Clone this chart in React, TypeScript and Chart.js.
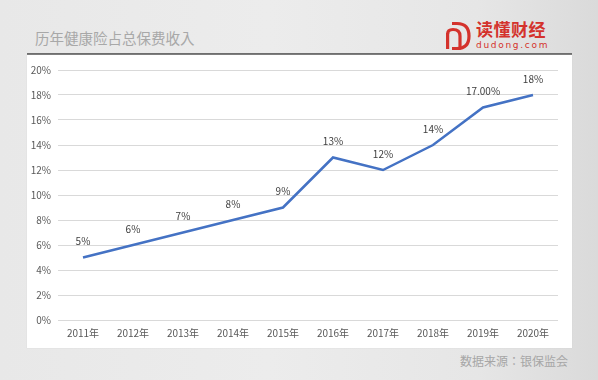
import React, { useEffect, useRef } from 'react';
import { Chart, registerables } from 'chart.js';

Chart.register(...registerables);

const categories = ['2011年', '2012年', '2013年', '2014年', '2015年', '2016年', '2017年', '2018年', '2019年', '2020年'];
const values = [5, 6, 7, 8, 9, 13, 12, 14, 17, 18];
const valueLabels = ['5%', '6%', '7%', '8%', '9%', '13%', '12%', '14%', '17.00%', '18%'];
const yMin = 0;
const yMax = 20;
const yStep = 2;

const FONT = '"Noto Sans CJK JP", "Noto Sans CJK SC", sans-serif';

const pointLabelPlugin = {
  id: 'pointLabels',
  afterDatasetsDraw(chart: any) {
    const ctx = chart.ctx;
    const meta = chart.getDatasetMeta(0);
    ctx.save();
    ctx.font = `10px ${FONT}`;
    ctx.fillStyle = '#404040';
    ctx.textAlign = 'center';
    ctx.textBaseline = 'middle';
    meta.data.forEach((pt: any, i: number) => {
      ctx.fillText(valueLabels[i], pt.x, pt.y - 16);
    });
    ctx.restore();
  },
};

function LineChart() {
  const ref = useRef<HTMLCanvasElement | null>(null);
  useEffect(() => {
    if (!ref.current) return;
    const chart = new Chart(ref.current, {
      type: 'line',
      data: {
        labels: categories,
        datasets: [
          {
            data: values,
            borderColor: '#4472c4',
            borderWidth: 2.5,
            pointRadius: 0,
            tension: 0,
            fill: false,
          },
        ],
      },
      options: {
        responsive: false,
        animation: false,
        devicePixelRatio: 1,
        layout: { padding: { top: 14, right: 14, left: 0, bottom: 0 } },
        plugins: { legend: { display: false }, tooltip: { enabled: false } },
        scales: {
          x: {
            offset: true,
            grid: { display: false, drawTicks: false },
            border: { display: false },
            ticks: { color: '#595959', font: { size: 10, family: FONT }, padding: 7, maxRotation: 0, autoSkip: false },
            afterFit: (s: any) => { s.height = 28; },
          },
          y: {
            min: yMin,
            max: yMax,
            grid: { color: '#d9d9d9', drawTicks: false, lineWidth: 1 },
            border: { display: false },
            ticks: {
              stepSize: yStep,
              color: '#595959',
              font: { size: 10, family: FONT },
              padding: 7,
              callback: (v: any) => `${v}%`,
            },
            afterFit: (s: any) => { s.width = 31; },
          },
        },
      },
      plugins: [pointLabelPlugin],
    } as any);
    return () => chart.destroy();
  }, []);
  return <canvas ref={ref} width={545} height={292} style={{ display: 'block' }} />;
}

export default function App() {
  return (
    <div
      style={{
        position: 'absolute',
        left: 0,
        top: 0,
        width: 598,
        height: 380,
        overflow: 'hidden',
        background: 'linear-gradient(90deg, #e8e8e8 0%, #ececec 45%, #e6e6e6 80%, #dadada 100%)',
        fontFamily: FONT,
      }}
    >
      <div style={{ position: 'absolute', left: 35, top: 29, fontSize: 14.5, color: '#a8a8a8', whiteSpace: 'nowrap', lineHeight: '18px' }}>
        历年健康险占总保费收入
      </div>
      <svg width={27} height={30} viewBox="0 0 27 30" style={{ position: 'absolute', left: 444, top: 21 }}>
        <path d="M8 2.5 L13 2.5 Q25 2.5 25 15 Q25 27.5 13 27.5 L8 27.5" stroke="#d4322c" strokeWidth={3.2} fill="none" />
        <rect x={2} y={12} width={3.2} height={16} fill="#d4322c" />
        <path d="M3.6 13 Q3.6 8.5 9 8.5 Q16 8.5 16 15 L16 27" stroke="#d4322c" strokeWidth={3.2} fill="none" />
      </svg>
      <div style={{ position: 'absolute', left: 476, top: 18, fontSize: 17, fontWeight: 700, color: '#d4322c', whiteSpace: 'nowrap', lineHeight: '22px', letterSpacing: 0.5 }}>
        读懂财经
      </div>
      <div style={{ position: 'absolute', left: 476, top: 40, fontSize: 9, color: '#d4322c', whiteSpace: 'nowrap', lineHeight: '11px', letterSpacing: 1.7, fontFamily: '"DejaVu Sans", sans-serif' }}>
        dudong.com
      </div>
      <div style={{ position: 'absolute', left: 27, top: 53, width: 545, height: 2, background: '#6e6e6e' }} />
      <div style={{ position: 'absolute', left: 27, top: 55, width: 545, height: 293, background: '#ffffff', boxShadow: '0 0 1px #cfcfcf' }}>
        <div style={{ position: 'absolute', left: 0, top: 1 }}>
          <LineChart />
        </div>
      </div>
      <div style={{ position: 'absolute', left: 460, top: 353, fontSize: 12, color: '#a6a6a6', whiteSpace: 'nowrap', lineHeight: '16px' }}>
        数据来源：银保监会
      </div>
    </div>
  );
}
